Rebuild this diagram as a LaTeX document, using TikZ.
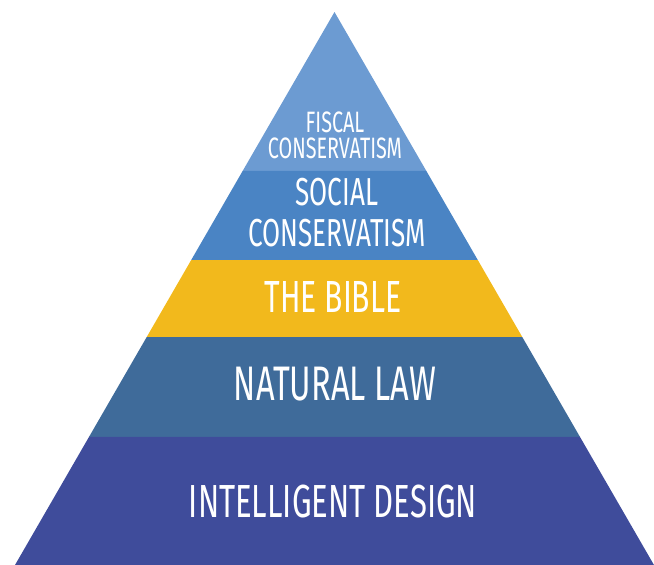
\documentclass[tikz,border=0pt]{standalone}
\usepackage{fontspec}
\setmainfont{Fira Sans}[FakeStretch=0.67]
\usetikzlibrary{calc}

\definecolor{fiscalblue}{RGB}{108,155,210}
\definecolor{socialblue}{RGB}{74,132,196}
\definecolor{bibleyellow}{RGB}{242,185,28}
\definecolor{lawblue}{RGB}{63,107,154}
\definecolor{designblue}{RGB}{63,76,155}

\begin{document}
\begin{tikzpicture}[x=1pt,y=1pt,yscale=-1,xscale=1,
    layertext/.style={text=white, align=center, inner sep=0pt, anchor=north}]
    \useasboundingbox (0,0) rectangle (654,565);

    % corners of the pyramid
    \coordinate (apex) at (334.5,12);
    \coordinate (bl) at (15,565);
    \coordinate (br) at (654,565);

    % Layers, top to bottom
    \foreach \ta/\tb/\col in {0/0.2875/fiscalblue, 0.2875/0.4485/socialblue,
        0.4485/0.5877/bibleyellow, 0.5877/0.7685/lawblue, 0.7685/1/designblue}
        \fill [\col] ($(apex)!\ta!(bl)$) -- ($(apex)!\tb!(bl)$) -- ($(apex)!\tb!(br)$) -- ($(apex)!\ta!(br)$) -- cycle;

    % Text Nodes
    \node [layertext, font=\fontsize{29.5}{26}\selectfont] (fiscal) at (335,112) {FISCAL\\CONSERVATISM};
    \node [layertext, font=\fontsize{39}{41}\selectfont] (social) at (337,178) {SOCIAL\\CONSERVATISM};
    \node [layertext, font=\fontsize{45}{50}\selectfont] (bible) at (333,281) {THE BIBLE};
    \node [layertext, font=\fontsize{48.5}{50}\selectfont] (law) at (335,367) {NATURAL LAW};
    \node [layertext, font=\fontsize{46.4}{50}\selectfont] (design) at (333,485) {INTELLIGENT DESIGN};
\end{tikzpicture}
\end{document}
